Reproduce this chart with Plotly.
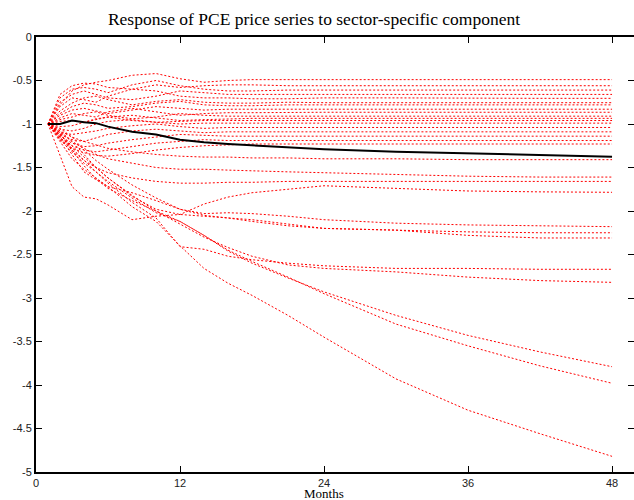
import plotly.graph_objects as go

months = [1, 2, 3, 4, 5, 6, 8, 10, 12, 14, 16, 18, 21, 24, 30, 36, 42, 48]

# sector-specific responses (red dotted)
u1 = [-1, -0.78, -0.62, -0.55, -0.52, -0.50, -0.44, -0.42, -0.48, -0.52, -0.50, -0.49, -0.49, -0.49, -0.49, -0.49, -0.49, -0.49]
u2 = [-1, -0.66, -0.56, -0.53, -0.54, -0.58, -0.60, -0.55, -0.58, -0.56, -0.55, -0.55, -0.56, -0.56, -0.56, -0.56, -0.56, -0.56]
u3 = [-1, -0.70, -0.60, -0.58, -0.60, -0.64, -0.55, -0.50, -0.56, -0.60, -0.62, -0.62, -0.61, -0.61, -0.61, -0.61, -0.61, -0.61]
u4 = [-1, -0.75, -0.66, -0.62, -0.66, -0.70, -0.72, -0.68, -0.62, -0.64, -0.66, -0.66, -0.66, -0.66, -0.66, -0.66, -0.66, -0.66]
u5 = [-1, -0.80, -0.70, -0.72, -0.75, -0.68, -0.60, -0.62, -0.68, -0.70, -0.70, -0.71, -0.71, -0.70, -0.70, -0.705, -0.705, -0.705]
u6 = [-1, -0.85, -0.76, -0.70, -0.68, -0.72, -0.78, -0.74, -0.72, -0.75, -0.76, -0.76, -0.75, -0.755, -0.755, -0.755, -0.755, -0.755]
u7 = [-1, -0.88, -0.80, -0.76, -0.78, -0.82, -0.80, -0.76, -0.74, -0.78, -0.79, -0.79, -0.78, -0.78, -0.78, -0.78, -0.78, -0.78]
u8 = [-1, -0.90, -0.84, -0.82, -0.85, -0.88, -0.84, -0.80, -0.82, -0.84, -0.83, -0.83, -0.83, -0.83, -0.83, -0.83, -0.83, -0.83]
u9 = [-1, -0.93, -0.88, -0.90, -0.92, -0.86, -0.82, -0.86, -0.90, -0.88, -0.87, -0.87, -0.865, -0.865, -0.865, -0.865, -0.865, -0.865]
u10 = [-1, -0.95, -0.92, -0.88, -0.86, -0.90, -0.94, -0.92, -0.88, -0.90, -0.91, -0.91, -0.91, -0.91, -0.91, -0.91, -0.91, -0.91]
u11 = [-1, -0.97, -0.96, -0.98, -0.95, -0.92, -0.90, -0.93, -0.96, -0.95, -0.94, -0.935, -0.935, -0.935, -0.935, -0.935, -0.935, -0.935]
u12 = [-1, -1.03, -1.02, -0.98, -0.94, -0.92, -0.96, -0.98, -0.97, -0.96, -0.96, -0.96, -0.96, -0.96, -0.96, -0.96, -0.96, -0.96]
u13 = [-1, -1.06, -1.08, -1.05, -1.00, -0.97, -0.95, -0.98, -1.00, -0.99, -0.99, -0.99, -0.99, -0.99, -0.99, -0.99, -0.99, -0.99]
u14 = [-1, -1.10, -1.12, -1.10, -1.08, -1.05, -1.02, -1.00, -1.03, -1.05, -1.04, -1.04, -1.04, -1.04, -1.04, -1.04, -1.04, -1.04]
u15 = [-1, -1.12, -1.18, -1.20, -1.16, -1.12, -1.08, -1.06, -1.08, -1.10, -1.09, -1.09, -1.09, -1.09, -1.09, -1.09, -1.09, -1.09]
u16 = [-1, -1.14, -1.22, -1.26, -1.25, -1.22, -1.18, -1.15, -1.12, -1.13, -1.14, -1.14, -1.14, -1.14, -1.14, -1.14, -1.14, -1.14]
u17 = [-1, -1.16, -1.25, -1.30, -1.32, -1.30, -1.26, -1.22, -1.20, -1.18, -1.19, -1.19, -1.19, -1.19, -1.19, -1.19, -1.19, -1.19]
u18 = [-1, -1.18, -1.28, -1.33, -1.36, -1.37, -1.34, -1.30, -1.27, -1.25, -1.24, -1.23, -1.23, -1.23, -1.23, -1.23, -1.23, -1.23]
l12 = [-1, -1.08, -1.15, -1.20, -1.24, -1.28, -1.32, -1.35, -1.37, -1.38, -1.38, -1.39, -1.39, -1.40, -1.40, -1.41, -1.41, -1.41]
l11 = [-1, -1.10, -1.20, -1.28, -1.35, -1.40, -1.45, -1.50, -1.52, -1.52, -1.53, -1.54, -1.55, -1.56, -1.58, -1.60, -1.61, -1.61]
l10 = [-1, -1.15, -1.30, -1.42, -1.50, -1.56, -1.62, -1.66, -1.68, -1.68, -1.67, -1.67, -1.66, -1.66, -1.66, -1.66, -1.66, -1.66]
l9 = [-1, -1.35, -1.72, -1.84, -1.86, -1.93, -2.10, -2.06, -2.04, -1.92, -1.84, -1.79, -1.75, -1.71, -1.74, -1.77, -1.78, -1.785]
l6 = [-1, -1.15, -1.35, -1.55, -1.64, -1.72, -1.79, -1.88, -1.98, -2.03, -2.02, -2.03, -2.06, -2.10, -2.14, -2.16, -2.17, -2.18]
l7 = [-1, -1.05, -1.15, -1.30, -1.42, -1.52, -1.70, -1.85, -1.98, -2.05, -2.08, -2.10, -2.15, -2.20, -2.22, -2.24, -2.25, -2.25]
l8 = [-1, -1.08, -1.20, -1.35, -1.50, -1.62, -1.83, -1.98, -2.04, -2.06, -2.08, -2.12, -2.17, -2.20, -2.22, -2.28, -2.31, -2.31]
l4 = [-1, -1.18, -1.32, -1.45, -1.55, -1.68, -1.90, -2.08, -2.41, -2.44, -2.52, -2.56, -2.60, -2.63, -2.66, -2.66, -2.67, -2.67]
l5 = [-1, -1.12, -1.25, -1.38, -1.50, -1.62, -1.82, -2.00, -2.15, -2.30, -2.42, -2.52, -2.62, -2.66, -2.70, -2.76, -2.80, -2.82]
l2 = [-1, -1.12, -1.28, -1.42, -1.55, -1.66, -1.85, -2.02, -2.12, -2.28, -2.46, -2.60, -2.77, -2.93, -3.20, -3.43, -3.62, -3.79]
l3 = [-1, -1.10, -1.30, -1.48, -1.63, -1.74, -1.88, -2.00, -2.12, -2.28, -2.45, -2.58, -2.76, -2.95, -3.30, -3.55, -3.78, -3.98]
l1 = [-1, -1.20, -1.40, -1.52, -1.62, -1.72, -1.95, -2.12, -2.40, -2.66, -2.83, -2.97, -3.20, -3.45, -3.93, -4.29, -4.56, -4.82]

# aggregate PCE response (black)
pce = [-1, -1.00, -0.96, -0.98, -0.99, -1.03, -1.09, -1.12, -1.18, -1.21, -1.23, -1.245, -1.27, -1.29, -1.32, -1.34, -1.36, -1.375]

sectors = [u1, u2, u3, u4, u5, u6, u7, u8, u9, u10, u11, u12, u13, u14, u15, u16, u17, u18,
           l12, l11, l10, l9, l6, l7, l8, l4, l5, l2, l3, l1]

x_ticks = [0, 12, 24, 36, 48]
x_ticktext = ["0", "12", "24", "36", "48"]
y_ticks = [0, -0.5, -1, -1.5, -2, -2.5, -3, -3.5, -4, -4.5, -5]
y_ticktext = ["0", "-0.5", "-1", "-1.5", "-2", "-2.5", "-3", "-3.5", "-4", "-4.5", "-5"]

fig = go.Figure()
for s in sectors:
    fig.add_trace(go.Scatter(x=months, y=s, mode="lines",
                             line=dict(color="rgb(255,0,0)", width=1, dash="2px,2px"),
                             hoverinfo="skip", showlegend=False))
fig.add_trace(go.Scatter(x=months, y=pce, mode="lines",
                         line=dict(color="black", width=2), showlegend=False))
# invisible helper trace to carry the right-hand tick axis
fig.add_trace(go.Scatter(x=[0], y=[0], yaxis="y2", mode="lines", showlegend=False,
                         hoverinfo="skip", line=dict(width=0)))

tick_font = dict(family="Liberation Sans, Arial, sans-serif", size=11, color="#222")

fig.update_layout(
    width=634, height=500,
    margin=dict(l=36, r=0, t=37, b=28),
    paper_bgcolor="white", plot_bgcolor="white",
    title=dict(text="Response of PCE price series to sector-specific component",
               font=dict(family="Liberation Serif, Times New Roman, serif", size=17.5, color="black"),
               x=314 / 634, xanchor="center", xref="container", y=1 - 19 / 500, yanchor="middle",
               yref="container"),
    xaxis=dict(range=[0, 49.83], tickvals=x_ticks, ticktext=x_ticktext, automargin=False,
               showgrid=False, zeroline=False, showline=True, linecolor="black", linewidth=2,
               mirror="ticks", ticks="inside", ticklen=6, tickwidth=1, tickcolor="black",
               tickfont=tick_font),
    yaxis=dict(range=[-5, 0], tickvals=y_ticks, ticktext=y_ticktext, automargin=False,
               showgrid=False, zeroline=False, showline=True, linecolor="black", linewidth=2,
               mirror=False, ticks="inside", ticklen=6, tickwidth=1, tickcolor="black",
               tickfont=tick_font),
    yaxis2=dict(range=[-5, 0], tickvals=y_ticks, overlaying="y", side="right",
                showticklabels=False, showgrid=False, zeroline=False, showline=False,
                ticks="inside", ticklen=6, tickwidth=1, tickcolor="black", automargin=False),
    annotations=[dict(text="Months", x=24, xref="x", y=0, yref="paper",
                      yshift=-21, yanchor="middle", showarrow=False,
                      font=dict(family="Liberation Serif, Times New Roman, serif", size=13,
                                color="black"))],
)

fig.write_html("out.html", config={"displayModeBar": False},
               post_script="document.body.style.margin='0';")
